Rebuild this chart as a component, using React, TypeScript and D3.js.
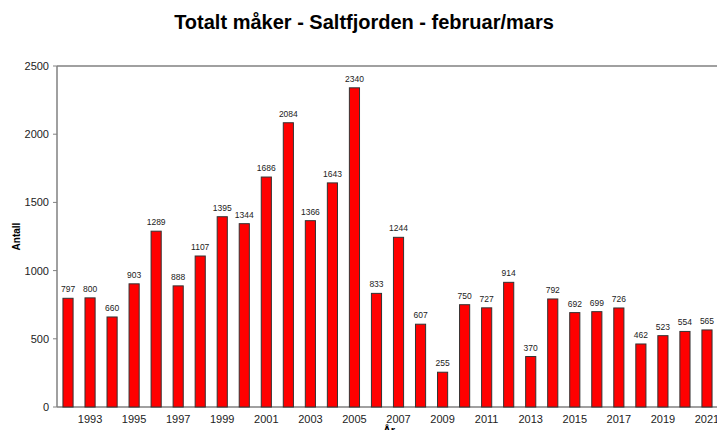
import React from "react";
import * as d3 from "d3";

const years = d3.range(1992, 2022).map(String);
const values = [797, 800, 660, 903, 1289, 888, 1107, 1395, 1344, 1686, 2084, 1366, 1643, 2340, 833, 1244, 607, 255, 750, 727, 914, 370, 792, 692, 699, 726, 462, 523, 554, 565];
const yTicks = [0, 500, 1000, 1500, 2000, 2500];
const title = "Totalt måker - Saltfjorden - februar/mars";

export default function App() {
  const W = 717, H = 430;
  const left = 57, right = 718, top = 66, bottom = 407;
  const x = d3.scaleBand<string>().domain(years).range([left, right]).paddingInner(0.54).paddingOuter(0.27);
  const y = d3.scaleLinear().domain([0, 2500]).range([bottom, top]);
  const font = "Arial, 'Liberation Sans', sans-serif";
  return (
    <svg width={W} height={H} style={{ position: "absolute", left: 0, top: 0 }} fontFamily={font}>
      <rect width={W} height={H} fill="#fff" />
      <text x={364} y={29} textAnchor="middle" fontSize={20} fontWeight="bold" fill="#000">{title}</text>
      <line x1={left} x2={W} y1={top} y2={top} stroke="#808080" strokeWidth={1.5} />
      <line x1={left} x2={left} y1={top} y2={bottom} stroke="#808080" strokeWidth={1.5} />
      <line x1={left} x2={W} y1={bottom} y2={bottom} stroke="#808080" strokeWidth={1.5} />
      {yTicks.map((t) => (
        <g key={t}>
          <line x1={left - 4} x2={left} y1={y(t)} y2={y(t)} stroke="#808080" />
          <text x={left - 8} y={y(t) + 4} textAnchor="end" fontSize={11} fill="#222">{t}</text>
        </g>
      ))}
      {years.map((yr, i) => (
        <g key={yr}>
          <rect x={x(yr)!} y={y(values[i])} width={x.bandwidth()} height={bottom - y(values[i])} fill="#ff0000" stroke="#333" strokeWidth={1} />
          <text x={x(yr)! + x.bandwidth() / 2} y={y(values[i]) - 6} textAnchor="middle" fontSize={8.5} fill="#222">{values[i]}</text>
          {+yr % 2 === 1 && (
            <text x={x(yr)! + x.bandwidth() / 2} y={bottom + 16} textAnchor="middle" fontSize={11} fill="#222">{yr}</text>
          )}
        </g>
      ))}
      <text x={389} y={434} textAnchor="middle" fontSize={11} fontWeight="bold" fill="#000">År</text>
      <text transform={`translate(20,${(top + bottom) / 2}) rotate(-90)`} textAnchor="middle" fontSize={10} fontWeight="bold" fill="#000">Antall</text>
    </svg>
  );
}
